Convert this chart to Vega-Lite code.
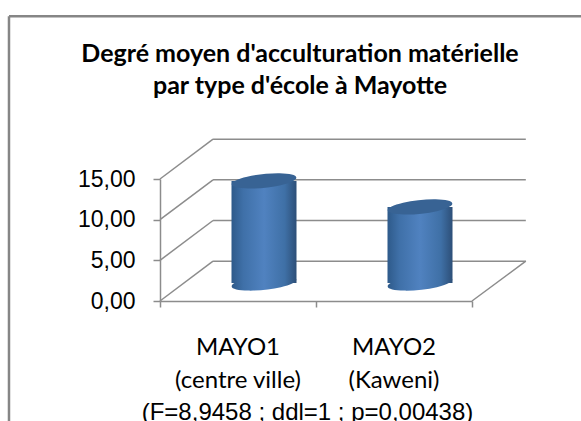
{
  "$schema": "https://vega.github.io/schema/vega-lite/v6.json",
  "width": 312,
  "height": 122,
  "autosize": {"type": "none"},
  "padding": {"left": 160, "top": 179, "right": 109, "bottom": 120},
  "background": "white",
  "view": {"stroke": null},
  "title": {
    "text": ["Degré moyen d'acculturation matérielle", "par type d'école à Mayotte"],
    "font": "Lato",
    "fontSize": 25,
    "fontWeight": "bold",
    "color": "#000000",
    "anchor": "middle",
    "dx": -16,
    "offset": -84,
    "lineHeight": 32
  },
  "datasets": {
    "ecoles": [
      {"ecole": "MAYO1|(centre ville)", "degre": 12.55},
      {"ecole": "MAYO2|(Kaweni)", "degre": 9.35}
    ],
    "grille": [
      {"x": 0, "y": 0, "x2": 0.34, "y2": 4.9},
      {"x": 0, "y": 5, "x2": 0.34, "y2": 9.9},
      {"x": 0, "y": 10, "x2": 0.34, "y2": 14.9},
      {"x": 0, "y": 15, "x2": 0.34, "y2": 19.9},
      {"x": 0.34, "y": 4.9, "x2": 2.345, "y2": 4.9},
      {"x": 0.34, "y": 9.9, "x2": 2.345, "y2": 9.9},
      {"x": 0.34, "y": 14.9, "x2": 2.345, "y2": 14.9},
      {"x": 0.34, "y": 19.9, "x2": 2.345, "y2": 19.9},
      {"x": 2, "y": 0, "x2": 2.345, "y2": 4.9}
    ],
    "cadre": [
      {"x": -0.968, "y": 35, "x2": 2.72, "y2": 35},
      {"x": -0.968, "y": 35, "x2": -0.968, "y2": -16}
    ]
  },
  "layer": [
    {
      "layer": [
        {
          "data": {"name": "cadre"},
          "mark": {"type": "rule", "color": "#868686", "strokeWidth": 2.5},
          "encoding": {
            "x": {"field": "x", "type": "quantitative"},
            "x2": {"field": "x2"},
            "y": {"field": "y", "type": "quantitative"},
            "y2": {"field": "y2"}
          }
        },
        {
          "data": {"name": "grille"},
          "mark": {"type": "rule", "color": "#8c8c8c", "strokeWidth": 1.5},
          "encoding": {
            "x": {
              "field": "x",
              "type": "quantitative",
              "scale": {"domain": [0, 2], "nice": false, "zero": false},
              "axis": {
                "values": [0, 1, 2],
                "orient": "bottom",
                "labels": false,
                "title": null,
                "grid": false,
                "tickColor": "#8c8c8c",
                "tickWidth": 1.5,
                "tickSize": 6,
                "domainColor": "#8c8c8c",
                "domainWidth": 1.5
              }
            },
            "x2": {"field": "x2"},
            "y": {
              "field": "y",
              "type": "quantitative",
              "scale": {"domain": [0, 15], "nice": false, "zero": false},
              "axis": {
                "values": [0, 5, 10, 15],
                "title": null,
                "grid": false,
                "labelExpr": "replace(format(datum.value, '.2f'), '.', ',')",
                "labelFont": "Liberation Sans",
                "labelFontSize": 23,
                "labelColor": "#000000",
                "labelPadding": 18,
                "tickColor": "#8c8c8c",
                "tickWidth": 1.5,
                "tickSize": 7,
                "domainColor": "#8c8c8c",
                "domainWidth": 1.5
              }
            },
            "y2": {"field": "y2"}
          }
        }
      ]
    },
    {
      "data": {"name": "ecoles"},
      "encoding": {
        "x": {
          "field": "ecole",
          "type": "nominal",
          "sort": null,
          "scale": {"paddingInner": 0, "paddingOuter": 0},
          "axis": {
            "orient": "bottom",
            "title": "(F=8,9458 ; ddl=1 ; p=0,00438)",
            "titleFont": "Liberation Sans",
            "titleFontSize": 24,
            "titleFontWeight": "normal",
            "titleColor": "#000000",
            "titleX": 147,
            "titleY": 118,
            "titleBaseline": "alphabetic",
            "labelExpr": "split(datum.label, '|')",
            "labelFont": "Lato",
            "labelFontSize": 24,
            "labelColor": "#000000",
            "labelAngle": 0,
            "labelPadding": 34,
            "labelLineHeight": 33,
            "labelBaseline": "top",
            "labelLimit": 0,
            "ticks": false,
            "domain": false,
            "grid": false
          }
        },
        "y": {"field": "degre", "type": "quantitative"}
      },
      "layer": [
        {
          "mark": {
            "type": "point",
            "filled": true,
            "opacity": 1,
            "size": 4225,
            "xOffset": 26,
            "yOffset": -18,
            "shape": "M -0.9945 0.1045 A 1 0.21 -6 1 1 0.9945 -0.1045 A 1 0.21 -6 1 1 -0.9945 0.1045 Z",
            "color": {
              "gradient": "linear", "x1": 0, "x2": 1, "y1": 0, "y2": 0,
              "stops": [
                {"offset": 0, "color": "#2e5a8a"},
                {"offset": 0.18, "color": "#3f70a8"},
                {"offset": 0.5, "color": "#5082c0"},
                {"offset": 0.82, "color": "#3f70a6"},
                {"offset": 1, "color": "#2d4f78"}
              ]
            }
          },
          "encoding": {"y": {"datum": 0, "type": "quantitative"}}
        },
        {
          "mark": {
            "type": "bar",
            "width": 65,
            "xOffset": 26,
            "yOffset": -18,
            "color": {
              "gradient": "linear", "x1": 0, "x2": 1, "y1": 0, "y2": 0,
              "stops": [
                {"offset": 0, "color": "#2e5a8a"},
                {"offset": 0.18, "color": "#3f70a8"},
                {"offset": 0.5, "color": "#5082c0"},
                {"offset": 0.82, "color": "#3f70a6"},
                {"offset": 1, "color": "#2d4f78"}
              ]
            }
          }
        },
        {
          "mark": {
            "type": "point",
            "filled": true,
            "opacity": 1,
            "size": 4225,
            "xOffset": 26,
            "yOffset": -18,
            "color": "#386394",
            "shape": "M -0.9945 0.1045 A 1 0.21 -6 1 1 0.9945 -0.1045 A 1 0.21 -6 1 1 -0.9945 0.1045 Z"
          }
        }
      ]
    }
  ],
  "resolve": {"scale": {"x": "independent"}, "axis": {"x": "independent"}}
}
